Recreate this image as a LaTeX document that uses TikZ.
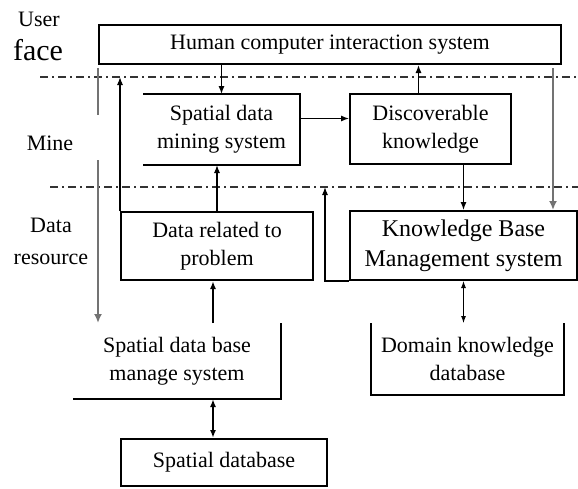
\documentclass[tikz,border=0pt]{standalone}
\usepackage{fontspec}
\setmainfont{Liberation Serif}
\usetikzlibrary{arrows.meta}

\tikzset{
  box/.style={draw, line width=2pt, inner sep=0pt, anchor=north west, align=center,
    font=\fontsize{22}{28}\selectfont},
  openbox/.style={box, draw=none},
  edge/.style={line width=2pt},
  lab/.style={align=center, font=\fontsize{22}{26}\selectfont},
  layer/.style={line width=1.3pt, black!80, dash pattern=on 8pt off 4pt on 2pt off 4pt},
  arr/.style={-{Latex[length=8pt,width=6pt]}, line width=1.1pt},
  dbl/.style={{Latex[length=7pt,width=5pt]}-{Latex[length=7pt,width=5pt]}, line width=0.9pt},
  fatarr/.style={-{Latex[length=8pt,width=6pt]}, line width=2.2pt},
  fatdbl/.style={{Latex[length=8pt,width=6pt]}-{Latex[length=8pt,width=6pt]}, line width=2.2pt},
  grayline/.style={line width=2.8pt, black!55},
  grayarr/.style={grayline, -{Latex[length=9pt,width=8pt]}}
}

\begin{document}
\begin{tikzpicture}[x=1pt, y=-1pt]

\newcommand\LINEA{77}
\newcommand\LINEB{187}

\useasboundingbox (0,0) rectangle (578,488);

%% layers
\draw[layer] (40,\LINEA) -- (578,\LINEA);
\draw[layer] (50,\LINEB) -- (578,\LINEB);
\coordinate (la) at (0,\LINEA);
\coordinate (lb) at (0,\LINEB);

\node[lab] (user) at (39,19) {User};
\node[lab, font=\fontsize{30}{30}\selectfont] (face) at (38,50) {face};
\node[lab] (mine) at (50,143) {Mine};
\node[lab, font=\fontsize{22}{32}\selectfont] (resource) at (51,241) {Data\\resource};

%% boxes
\node[box, minimum width=462pt, minimum height=39pt] (hci) at (98,24) {Human computer interaction system};
\node[openbox, minimum width=155pt, minimum height=69pt] (mining) at (143,94) {Spatial data\\mining system};
\node[box, minimum width=161pt, minimum height=70pt] (disc) at (349,93) {Discoverable\\knowledge};
\node[box, minimum width=192pt, minimum height=68pt] (data) at (120,211) {Data related to\\problem};
\node[box, minimum width=227pt, minimum height=69pt, font=\fontsize{24}{30}\selectfont] (kbms) at (349,210) {Knowledge Base\\Management system};
\node[openbox, minimum width=206pt, minimum height=74pt] (sdbms) at (73,323) {Spatial data base\\manage system};
\node[openbox, minimum width=191pt, minimum height=70pt] (domain) at (371,323) {Domain knowledge\\database};
\node[box, minimum width=206pt, minimum height=47pt] (sdb) at (120,438) {Spatial database};

\draw[edge] (mining.north west) -- (mining.north east) -- (mining.south east) -- (mining.south west);
\draw[edge] (sdbms.north east) -- (sdbms.south east) -- (sdbms.south west);
\draw[edge] (domain.north west) -- (domain.south west) -- (domain.south east) -- (domain.north east);

%% arrows
\draw[arr] (hci.south -| mining.north) -- (mining.north);
\draw[arr] ([xshift=-12pt]disc.north) -- ([xshift=-12pt]disc.north |- hci.south);
\draw[arr] ([yshift=11pt]mining.east) -- ([yshift=11pt]mining.east -| disc.west);
\draw[arr] (data.north) -- (data.north |- mining.south);
\draw[arr] (data.north west) -- (data.north west |- la);
\draw[arr] (disc.south -| kbms.north) -- (kbms.north);
\draw[dbl] (kbms.south) -- (kbms.south |- domain.north);
\draw[arr] (kbms.south west) -- ++(-24,0) coordinate (kbl) -- (kbl |- lb);

\draw[fatarr] ([xshift=-4pt]data.south |- sdbms.north) -- ([xshift=-4pt]data.south);
\draw[fatdbl] ([xshift=-4pt]data.south |- sdbms.south) -- ([xshift=-4pt]data.south |- sdb.north);

%% side lines
\coordinate (ltop) at (98,68);
\coordinate (lgap) at (98,115);
\coordinate (lmid) at (98,160);
\coordinate (rtop) at (553,68);
\draw[grayline] (ltop) -- (lgap);
\draw[grayarr] (lmid) -- (lmid |- sdbms.north);
\draw[grayarr] (rtop) -- (rtop |- kbms.north);

\end{tikzpicture}
\end{document}
